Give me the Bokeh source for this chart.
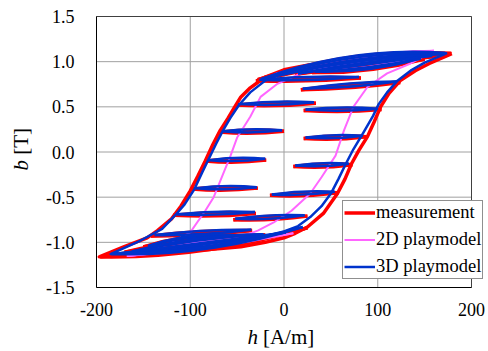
import numpy as np
from bokeh.plotting import figure
from bokeh.models import Range1d, FixedTicker, Legend, LegendItem, Label, ColumnDataSource
from bokeh.embed import file_html
from bokeh.resources import INLINE

# ---------------- data ----------------
x_ticks = [-200, -100, 0, 100, 200]
x_tick_labels = ["-200", "-100", "0", "100", "200"]
y_ticks = [-1.5, -1.0, -0.5, 0.0, 0.5, 1.0, 1.5]
y_tick_labels = ["-1.5", "-1.0", "-0.5", "0.0", "0.5", "1.0", "1.5"]

# measurement major loop (descending branch then ascending branch)
meas_h = [179, 140, 100, 50, 25, 0, -20, -36, -46, -53, -60, -68, -76, -84, -92, -100, -110, -120, -135, -146, -171, -197,
          -160, -125, -80, -46, -20, 0, 12, 25, 42, 57, 65, 72, 80, 89, 96, 103, 112, 124, 140, 155, 179]
meas_b = [1.09, 1.075, 1.05, 1.0, 0.96, 0.91, 0.83, 0.71, 0.61, 0.49, 0.37, 0.24, 0.08, -0.10, -0.27, -0.43, -0.60, -0.74, -0.87, -0.95, -1.05, -1.16,
          -1.135, -1.11, -1.08, -1.05, -1.0, -0.95, -0.90, -0.83, -0.68, -0.46, -0.30, -0.13, 0.02, 0.17, 0.33, 0.50, 0.65, 0.79, 0.90, 0.98, 1.09]

# 2D playmodel major loop
m2d_h = [160, 120, 80, 40, 18, -7, -25, -36, -50, -57, -66, -75, -84, -100, -125, -167,
         -120, -80, -46, -28, -11, 8, 28, 40, 55, 64, 74, 89, 110, 135, 160]
m2d_b = [1.12, 1.08, 1.03, 0.94, 0.87, 0.755, 0.61, 0.39, 0.16, -0.04, -0.27, -0.50, -0.65, -0.89, -1.03, -1.15,
         -1.10, -1.03, -0.94, -0.87, -0.78, -0.65, -0.46, -0.28, -0.04, 0.24, 0.50, 0.72, 0.87, 0.98, 1.12]

# 3D playmodel major loop
m3d_h = [174, 140, 100, 50, 20, 0, -20, -36, -48, -57, -65, -72, -79, -87, -96, -106, -116, -130, -153, -185,
         -150, -120, -80, -46, -20, 0, 15, 28, 40, 50, 58, 66, 74, 85, 95, 101, 110, 121, 135, 150, 174]
m3d_b = [1.094, 1.07, 1.03, 0.97, 0.91, 0.87, 0.79, 0.66, 0.52, 0.38, 0.24, 0.10, -0.05, -0.22, -0.42, -0.58, -0.70, -0.85, -0.98, -1.13,
         -1.11, -1.08, -1.04, -0.99, -0.93, -0.88, -0.82, -0.72, -0.60, -0.46, -0.30, -0.13, 0.03, 0.22, 0.40, 0.53, 0.66, 0.79, 0.90, 0.99, 1.094]

# minor loops: reversal point (h0, b0), far end (h1, b1), bulge of the two edges (ca, cb)
meas_loop_h0 = [-84, -98, -118, -69, -52, -30, -142, 73, 88, 104, 124, 58, 25, 178, 172, 162, 150, -196, -185, -170, -150]
meas_loop_b0 = [-0.10, -0.41, -0.70, 0.22, 0.52, 0.79, -0.93, -0.14, 0.17, 0.47, 0.77, -0.45, -0.71, 1.09, 1.08, 1.06, 1.03, -1.16, -1.14, -1.11, -1.05]
meas_loop_h1 = [-19, -28, -30, 0, 34, 82, -34, 10, 21, 21, 18, -15, -54, -28, -8, 12, 30, 25, 5, -20, -35]
meas_loop_b1 = [-0.09, -0.40, -0.68, 0.23, 0.54, 0.82, -0.87, -0.16, 0.15, 0.46, 0.69, -0.48, -0.75, 0.80, 0.84, 0.86, 0.88, -0.84, -0.90, -0.92, -0.95]
meas_loop_ca = [0.035, 0.035, 0.035, 0.035, 0.035, 0.035, 0.035, 0.035, 0.035, 0.035, 0.035, 0.035, 0.035, 0.22, 0.12, 0.04, -0.05, -0.18, -0.04, 0.05, 0.10]
meas_loop_cb = [-0.035, -0.035, -0.035, -0.035, -0.035, -0.035, -0.035, -0.035, -0.035, -0.035, -0.035, -0.035, -0.035, 0.18, 0.08, 0.0, -0.09, -0.14, 0.0, 0.09, 0.14]

m3d_loop_h0 = [-80, -94, -114, -66, -49, -26, -138, 69, 84, 100, 120, 54, 22, 172, 168, 158, 146, -184, -175, -162, -145]
m3d_loop_b0 = [-0.09, -0.40, -0.69, 0.23, 0.53, 0.80, -0.92, -0.13, 0.18, 0.48, 0.78, -0.44, -0.70, 1.095, 1.085, 1.065, 1.035, -1.13, -1.12, -1.10, -1.04]
m3d_loop_h1 = [-20, -29, -31, -2, 32, 80, -35, 12, 23, 23, 20, -13, -52, -24, -5, 15, 33, 20, 2, -22, -37]
m3d_loop_b1 = [-0.075, -0.39, -0.665, 0.24, 0.55, 0.83, -0.86, -0.15, 0.16, 0.47, 0.70, -0.47, -0.74, 0.81, 0.85, 0.87, 0.89, -0.83, -0.89, -0.91, -0.94]
m3d_loop_ca = meas_loop_ca
m3d_loop_cb = meas_loop_cb

m2d_loop_h0 = [160, 150, 140, -167, -150]
m2d_loop_b0 = [1.12, 1.10, 1.05, -1.15, -1.12]
m2d_loop_h1 = [-10, 20, 40, 10, -20]
m2d_loop_b1 = [0.86, 0.90, 0.90, -0.90, -0.95]
m2d_loop_ca = [0.12, -0.01, -0.06, -0.06, 0.07]
m2d_loop_cb = [0.10, -0.03, -0.07, -0.04, 0.09]

FONT = "Liberation Serif"
RED, PINK, BLUE = "#ff0000", "#ff66ff", "#0033cc"

# canvas geometry: plot box from x=96..471 px, y=16..287 px in a 488x351 canvas
W, H = 488, 351
BOX_L, BOX_R, BOX_T, BOX_B = 96, 471, 16, 287
xs = (BOX_R - BOX_L) / (x_ticks[-1] - x_ticks[0])
ys = (BOX_B - BOX_T) / (y_ticks[-1] - y_ticks[0])
x_lo = x_ticks[0] - BOX_L / xs
x_hi = x_ticks[-1] + (W - BOX_R) / xs
y_lo = y_ticks[0] - (H - BOX_B) / ys
y_hi = y_ticks[-1] + BOX_T / ys


def loop_source(h0, b0, h1, b1, ca, cb):
    h0, b0, h1, b1 = map(np.asarray, (h0, b0, h1, b1))
    cx = (h0 + h1) / 2.0
    cy = (b0 + b1) / 2.0
    return ColumnDataSource(dict(
        x0=np.concatenate([h0, h0]), y0=np.concatenate([b0, b0]),
        x1=np.concatenate([h1, h1]), y1=np.concatenate([b1, b1]),
        cx=np.concatenate([cx, cx]), cy=np.concatenate([cy + np.asarray(ca), cy + np.asarray(cb)])))


p = figure(width=W, height=H, output_backend="svg", toolbar_location=None,
           x_range=Range1d(x_lo, x_hi), y_range=Range1d(y_lo, y_hi),
           min_border_left=0, min_border_right=0, min_border_top=0, min_border_bottom=0)
p.background_fill_color = "white"
p.border_fill_color = "white"
p.outline_line_color = None
p.grid.visible = False

# grid lines and the top/right plot-box border
nx, ny = len(x_ticks), len(y_ticks)
p.segment(x0=x_ticks, y0=[y_ticks[0]] * nx, x1=x_ticks, y1=[y_ticks[-1]] * nx, line_color="#a0a0a0", line_width=1)
p.segment(x0=[x_ticks[0]] * ny, y0=y_ticks, x1=[x_ticks[-1]] * ny, y1=y_ticks, line_color="#a0a0a0", line_width=1)
p.segment(x0=[x_ticks[0], x_ticks[-1]], y0=[y_ticks[-1], y_ticks[0]],
          x1=[x_ticks[-1], x_ticks[-1]], y1=[y_ticks[-1], y_ticks[-1]], line_color="#404040", line_width=1)

p.xaxis.fixed_location = y_ticks[0]
p.yaxis.fixed_location = x_ticks[0]
p.xaxis.bounds = (x_ticks[0], x_ticks[-1])
p.yaxis.bounds = (y_ticks[0], y_ticks[-1])
for ax in (p.xaxis[0], p.yaxis[0]):
    ax.axis_line_color = "black"
    ax.major_tick_out = 0
    ax.major_tick_in = 0
    ax.minor_tick_out = 0
    ax.minor_tick_in = 0
    ax.major_label_text_font = FONT
    ax.major_label_text_font_size = "18px"
    ax.major_label_text_color = "black"
p.xaxis.ticker = FixedTicker(ticks=x_ticks)
p.yaxis.ticker = FixedTicker(ticks=y_ticks)
p.xaxis.major_label_overrides = dict(zip(x_ticks, x_tick_labels))
p.yaxis.major_label_overrides = dict(zip(y_ticks, y_tick_labels))
p.xaxis.major_label_standoff = 15
p.yaxis.major_label_standoff = 22

# measurement
r_meas = p.line(meas_h, meas_b, line_color=RED, line_width=3.5, line_join="round")
p.quadratic(x0="x0", y0="y0", x1="x1", y1="y1", cx="cx", cy="cy",
            source=loop_source(meas_loop_h0, meas_loop_b0, meas_loop_h1, meas_loop_b1, meas_loop_ca, meas_loop_cb),
            line_color=RED, line_width=3.5)
# 2D playmodel
r_2d = p.line(m2d_h, m2d_b, line_color=PINK, line_width=2, line_join="round")
p.quadratic(x0="x0", y0="y0", x1="x1", y1="y1", cx="cx", cy="cy",
            source=loop_source(m2d_loop_h0, m2d_loop_b0, m2d_loop_h1, m2d_loop_b1, m2d_loop_ca, m2d_loop_cb),
            line_color=PINK, line_width=2)
# 3D playmodel
r_3d = p.line(m3d_h, m3d_b, line_color=BLUE, line_width=2.5, line_join="round")
p.quadratic(x0="x0", y0="y0", x1="x1", y1="y1", cx="cx", cy="cy",
            source=loop_source(m3d_loop_h0, m3d_loop_b0, m3d_loop_h1, m3d_loop_b1, m3d_loop_ca, m3d_loop_cb),
            line_color=BLUE, line_width=2.5)

legend = Legend(items=[LegendItem(label="measurement", renderers=[r_meas]),
                       LegendItem(label="2D playmodel", renderers=[r_2d]),
                       LegendItem(label="3D playmodel", renderers=[r_3d])],
                location=(342, H - 279), margin=0, padding=1, spacing=6,
                glyph_width=31, glyph_height=21, label_height=21, label_standoff=1,
                label_text_font=FONT, label_text_font_size="18.5px", label_text_color="black",
                border_line_color="#202020", border_line_width=1,
                background_fill_color="white", background_fill_alpha=1.0)
p.add_layout(legend)

# axis titles (italic variable + unit)
lab_kw = dict(text_font=FONT, text_font_size="21px", text_color="black", text_baseline="middle", text_align="left")
p.add_layout(Label(x=-39, y=-2.05, text="h", text_font_style="italic", **lab_kw))
p.add_layout(Label(x=-22.5, y=-2.05, text="[A/m]", **lab_kw))
p.add_layout(Label(x=-281, y=-0.205, text="b", angle=np.pi / 2, text_font_style="italic", **lab_kw))
p.add_layout(Label(x=-281, y=-0.03, text="[T]", angle=np.pi / 2, **lab_kw))

open("out.html", "w").write(file_html(p, INLINE))
